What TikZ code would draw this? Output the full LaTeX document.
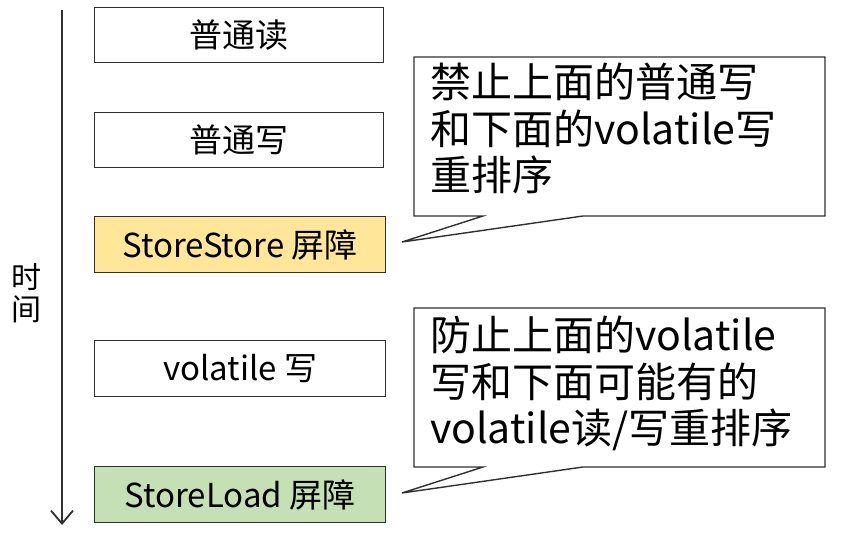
\documentclass[tikz,border=0pt]{standalone}
\usepackage{fontspec}
\setmainfont{Noto Sans CJK SC}
\usetikzlibrary{arrows.meta}
\definecolor{boxline}{HTML}{303030}
\definecolor{yellowfill}{HTML}{FFE699}
\definecolor{greenfill}{HTML}{C5E0B4}
\tikzset{
  stepbox/.style={draw=boxline, line width=1.4pt, minimum width=290pt, minimum height=55pt, inner sep=0pt, font=\fontsize{33}{36}\selectfont, anchor=north west},
  calltext/.style={align=left, anchor=north west, inner sep=0pt, font=\fontsize{41}{46.5}\selectfont},
  callshape/.style={draw=boxline, line width=1.4pt, fill=white, line join=miter},
  timelabel/.style={font=\fontsize{30}{32}\selectfont, inner sep=0pt}
}
\begin{document}
\begin{tikzpicture}[x=1pt,y=-1pt]
\useasboundingbox (0,0) rectangle (846,543);
% time arrow
\coordinate (ttop) at (62,10);
\coordinate (tbot) at (62,525);
\draw[draw=boxline, line width=1.8pt, -{Straight Barb[length=13pt,width=22pt,line width=1.8pt]}] (ttop) -- (tbot);
\node[timelabel] (t1) at (26,277) {时};
\node[timelabel] (t2) at (26,309) {间};
% boxes
\node[stepbox, minimum width=289pt] (b1) at (94,7) {普通读};
\node[stepbox, minimum width=289pt] (b2) at (94,112) {普通写};
\node[stepbox, fill=yellowfill, minimum width=291pt, minimum height=56pt] (b3) at (94,216) {StoreStore 屏障};
\node[stepbox, minimum width=291pt, minimum height=56pt] (b4) at (94,340) {volatile 写};
\node[stepbox, fill=greenfill, minimum width=291pt, minimum height=56pt] (b5) at (94,466) {StoreLoad 屏障};
% callout 1
\coordinate (c1nw) at (414,57);
\coordinate (c1ne) at (825,57);
\coordinate (c1se) at (825,216);
\coordinate (c1sw) at (414,216);
\coordinate (c1tr) at (583,216);
\coordinate (c1tl) at (483,216);
\coordinate (c1tip) at (402,242);
\draw[callshape] (c1nw) -- (c1ne) -- (c1se) -- (c1tr) -- (c1tip) -- (c1tl) -- (c1sw) -- cycle;
\node[calltext] (n1) at (430,63) {禁止上面的普通写\\和下面的volatile写\\重排序};
% callout 2
\coordinate (c2nw) at (414,308);
\coordinate (c2ne) at (825,308);
\coordinate (c2se) at (825,467);
\coordinate (c2sw) at (414,467);
\coordinate (c2tr) at (583,467);
\coordinate (c2tl) at (483,467);
\coordinate (c2tip) at (402,493);
\draw[callshape] (c2nw) -- (c2ne) -- (c2se) -- (c2tr) -- (c2tip) -- (c2tl) -- (c2sw) -- cycle;
\node[calltext] (n2) at (430,316) {防止上面的volatile\\写和下面可能有的\\volatile读/写重排序};
\end{tikzpicture}
\end{document}
